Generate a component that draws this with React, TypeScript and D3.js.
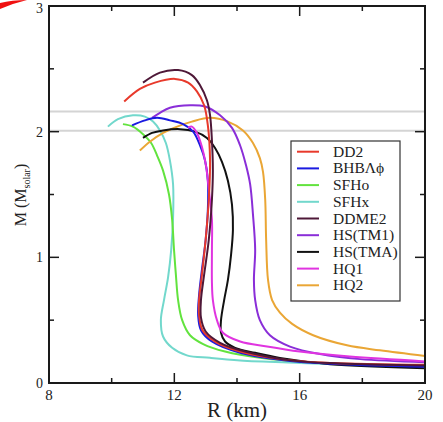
import React from "react";
import * as d3 from "d3";

type Pt = [number, number];

const xTicksMajor = [8, 12, 16, 20];
const xTicksMinor = [10, 14, 18];
const yTicksMajor = [0, 1, 2, 3];
const yTicksMinor = [0.5, 1.5, 2.5];
const refLines = [2.16, 2.007];

const dd2: Pt[] = [[10.4,2.24],[10.9,2.34],[11.38,2.39],[12.02,2.42],[12.44,2.39],[12.72,2.32],[12.95,2.21],[13.07,2.05],[13.14,1.77],[13.1,1.46],[13.0,1.14],[12.88,0.86],[12.79,0.66],[12.79,0.54],[12.9,0.42],[13.3,0.33],[14.1,0.25],[15.37,0.19],[16.97,0.16],[20,0.145]];
const bhb: Pt[] = [[10.65,2.05],[11.06,2.09],[11.45,2.11],[11.86,2.09],[12.28,2.06],[12.6,2.0],[12.82,1.89],[12.98,1.77],[13.07,1.61],[13.07,1.38],[13.0,1.14],[12.88,0.9],[12.79,0.7],[12.76,0.54],[12.85,0.42],[13.2,0.33],[14.1,0.24],[15.7,0.175],[17.3,0.15],[20,0.13]];
const sfho: Pt[] = [[10.36,2.06],[10.68,2.04],[11.0,1.98],[11.26,1.91],[11.45,1.81],[11.64,1.69],[11.83,1.5],[11.93,1.3],[11.99,1.06],[12.05,0.86],[12.12,0.66],[12.25,0.5],[12.5,0.38],[12.92,0.31],[13.62,0.25],[14.74,0.2],[16.65,0.16],[20,0.135]];
const sfhx: Pt[] = [[9.88,2.04],[10.2,2.1],[10.68,2.13],[11.06,2.12],[11.32,2.08],[11.54,2.01],[11.73,1.91],[11.86,1.77],[11.96,1.58],[11.96,1.32],[11.9,1.06],[11.8,0.84],[11.67,0.66],[11.57,0.5],[11.64,0.37],[11.93,0.28],[12.4,0.22],[13.14,0.2],[14.1,0.18],[16.0,0.16],[20,0.125]];
const ddme2: Pt[] = [[11.0,2.39],[11.54,2.47],[12.12,2.49],[12.56,2.45],[12.82,2.37],[13.04,2.25],[13.14,2.13],[13.2,1.93],[13.23,1.69],[13.2,1.46],[13.1,1.14],[12.95,0.86],[12.85,0.66],[12.85,0.52],[13.0,0.41],[13.46,0.32],[14.26,0.25],[15.7,0.18],[17.3,0.155],[20,0.14]];
const tm1: Pt[] = [[11.29,2.11],[11.54,2.15],[11.86,2.19],[12.5,2.21],[12.98,2.2],[13.46,2.13],[13.84,2.03],[14.1,1.89],[14.29,1.73],[14.42,1.58],[14.51,1.34],[14.58,1.06],[14.54,0.82],[14.58,0.66],[14.73,0.5],[15.05,0.38],[15.69,0.29],[16.65,0.23],[17.93,0.19],[20,0.165]];
const tma: Pt[] = [[11.0,1.95],[11.29,1.99],[11.64,2.01],[12.18,2.02],[12.66,2.0],[13.04,1.95],[13.3,1.87],[13.52,1.76],[13.71,1.61],[13.84,1.42],[13.87,1.22],[13.81,1.02],[13.71,0.82],[13.59,0.66],[13.49,0.5],[13.49,0.4],[13.62,0.33],[13.94,0.28],[14.58,0.24],[15.37,0.2],[16.97,0.15],[20,0.118]];
const hq1: Pt[] = [[12.44,2.03],[12.56,2.04],[12.72,1.99],[12.88,1.88],[13.01,1.73],[13.1,1.54],[13.2,1.3],[13.2,1.06],[13.2,0.8],[13.23,0.66],[13.36,0.5],[13.55,0.4],[14.1,0.33],[14.96,0.29],[16.0,0.25],[17.6,0.21],[20,0.172]];
const hq2: Pt[] = [[10.9,1.85],[11.22,1.92],[11.64,1.99],[12.09,2.04],[12.56,2.08],[13.14,2.11],[13.71,2.08],[14.19,2.01],[14.51,1.91],[14.73,1.79],[14.83,1.68],[14.9,1.46],[14.93,1.14],[14.99,0.82],[15.12,0.66],[15.37,0.56],[15.76,0.47],[16.43,0.38],[17.51,0.3],[18.56,0.26],[20,0.215]];

const seriesNames = ["DD2", "BHBΛϕ", "SFHo", "SFHx", "DDME2", "HS(TM1)", "HS(TMA)", "HQ1", "HQ2"];
const seriesColors = ["#e8392b", "#1a1ae0", "#62e33e", "#72d8cc", "#4e1838", "#8a2ed8", "#111111", "#e034e0", "#eaa635"];
const seriesData = [dd2, bhb, sfho, sfhx, ddme2, tm1, tma, hq1, hq2];
const drawOrder = [3, 2, 8, 6, 5, 1, 7, 0, 4];

export default function App() {
  const x = d3.scaleLinear().domain([8, 20]).range([49, 425]);
  const y = d3.scaleLinear().domain([0, 3]).range([383, 6]);
  const line = d3
    .line<Pt>()
    .x((d) => x(d[0]))
    .y((d) => y(d[1]))
    .curve(d3.curveCatmullRom.alpha(0.5));
  const font = '"Liberation Serif", "Times New Roman", Times, serif';
  const left = x(8), right = x(20), top = y(3), bottom = y(0);
  const legX = 291, legY = 141, legW = 109, legH = 160;

  return (
    <svg width={443} height={422} style={{ position: "absolute", left: 0, top: 0, background: "#fff", fontFamily: font }}>
      <path d="M0,3 Q12,0 27,0 Q14,3 0,9 Z" fill="#f01010" />
      {refLines.map((v, i) => (
        <line key={"r" + i} x1={left} x2={right} y1={y(v)} y2={y(v)} stroke="#d4d4d4" strokeWidth={2} />
      ))}
      {drawOrder.map((i) => (
        <path key={"s" + i} d={line(seriesData[i]) || ""} fill="none" stroke={seriesColors[i]} strokeWidth={2} />
      ))}
      <rect x={left} y={top} width={right - left} height={bottom - top} fill="none" stroke="#1a1a1a" strokeWidth={2} />
      {xTicksMajor.map((t) => (
        <g key={"xm" + t}>
          <line x1={x(t)} x2={x(t)} y1={bottom} y2={bottom - 10} stroke="#1a1a1a" strokeWidth={1.5} />
          <line x1={x(t)} x2={x(t)} y1={top} y2={top + 10} stroke="#1a1a1a" strokeWidth={1.5} />
          <text x={x(t)} y={400} fontSize={15} textAnchor="middle" fill="#222">{t}</text>
        </g>
      ))}
      {xTicksMinor.map((t) => (
        <g key={"xn" + t}>
          <line x1={x(t)} x2={x(t)} y1={bottom} y2={bottom - 5} stroke="#1a1a1a" strokeWidth={1.5} />
          <line x1={x(t)} x2={x(t)} y1={top} y2={top + 5} stroke="#1a1a1a" strokeWidth={1.5} />
        </g>
      ))}
      {yTicksMajor.map((t) => (
        <g key={"ym" + t}>
          <line x1={left} x2={left + 10} y1={y(t)} y2={y(t)} stroke="#1a1a1a" strokeWidth={1.5} />
          <line x1={right} x2={right - 10} y1={y(t)} y2={y(t)} stroke="#1a1a1a" strokeWidth={1.5} />
          <text x={43} y={Math.max(y(t) + 5, 13)} fontSize={14} textAnchor="end" fill="#222">{t}</text>
        </g>
      ))}
      {yTicksMinor.map((t) => (
        <g key={"yn" + t}>
          <line x1={left} x2={left + 5} y1={y(t)} y2={y(t)} stroke="#1a1a1a" strokeWidth={1.5} />
          <line x1={right} x2={right - 5} y1={y(t)} y2={y(t)} stroke="#1a1a1a" strokeWidth={1.5} />
        </g>
      ))}
      <text x={237} y={417} fontSize={21} textAnchor="middle" fill="#222">R (km)</text>
      <text transform="translate(26,195) rotate(-90)" fontSize={16} textAnchor="middle" fill="#222">
        M (M<tspan fontSize={10} dy={4}>solar</tspan><tspan dy={-4}>)</tspan>
      </text>
      <rect x={legX} y={legY} width={legW} height={legH} fill="#fff" stroke="#333" strokeWidth={1.2} />
      {seriesNames.map((n, i) => {
        const ly = 151.7 + i * 16.7;
        return (
          <g key={"l" + i}>
            <line x1={297} x2={319} y1={ly} y2={ly} stroke={seriesColors[i]} strokeWidth={2} />
            <text x={333} y={ly + 5} fontSize={15.5} fill="#222">{n}</text>
          </g>
        );
      })}
    </svg>
  );
}
